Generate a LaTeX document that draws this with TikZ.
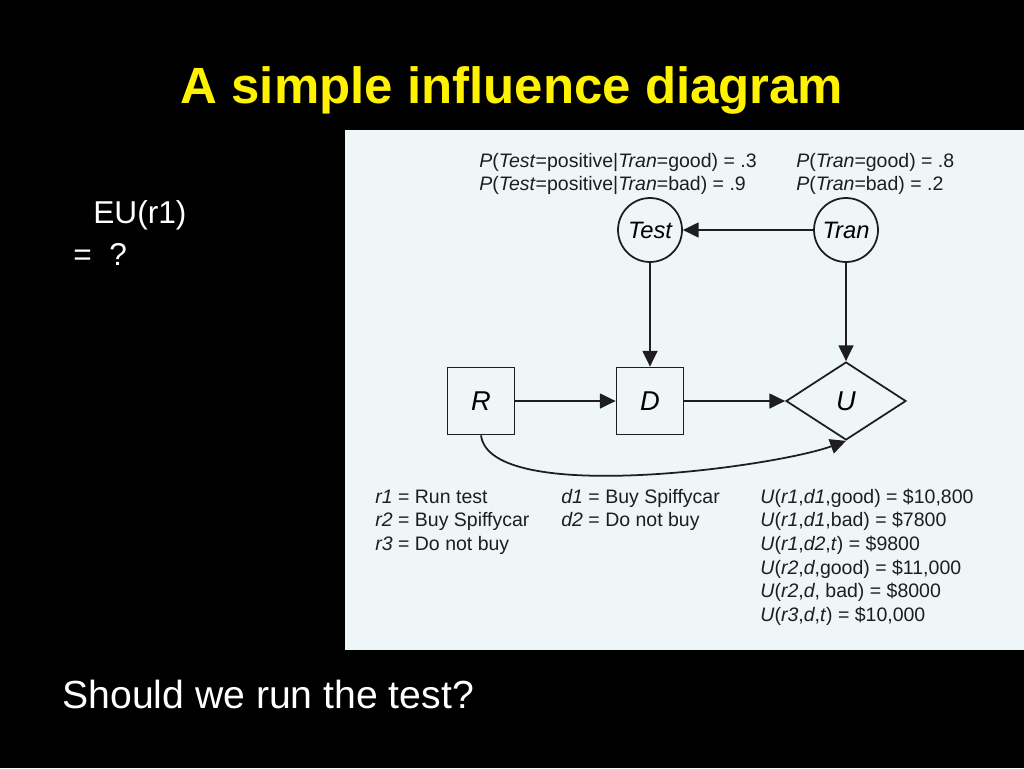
\documentclass[tikz,border=0pt]{standalone}
\usepackage{fontspec}
\setmainfont{Liberation Sans}
\usetikzlibrary{shapes.geometric,arrows.meta}
\definecolor{panel}{RGB}{238,246,248}
\definecolor{ink}{RGB}{30,30,30}
\newcommand{\vname}[1]{\textit{#1}}

\begin{document}
\begin{tikzpicture}[x=0.02cm,y=0.02cm,
  chance/.style={circle,draw=ink,line width=1pt,minimum size=1.28cm,inner sep=0pt,font=\fontsize{13.5}{15}\selectfont\itshape},
  decision/.style={rectangle,draw=ink,line width=1pt,minimum size=1.34cm,inner sep=0pt,font=\fontsize{15.5}{18}\selectfont\itshape},
  utility/.style={diamond,draw=ink,line width=1pt,minimum width=2.4cm,minimum height=1.56cm,inner sep=0pt,font=\fontsize{15.5}{18}\selectfont\itshape},
  arr/.style={-{Triangle[length=9pt,width=8.5pt]},line width=1pt,draw=ink},
  small/.style={anchor=base west,inner sep=0pt,text=ink,font=\fontsize{11.1}{13}\selectfont}]
  \fill[black] (0,0) rectangle (1024,-768);
  \fill[panel] (345,-130) rectangle (1024,-650);
\node[text=yellow,font=\fontsize{29}{34}\selectfont\bfseries,anchor=base] (title) at (512,-103) {A simple influence diagram};
\node[text=white,font=\fontsize{18}{20}\selectfont,anchor=base west,inner sep=0pt] (eu) at (93,-223) {EU(r1)};
\node[text=white,font=\fontsize{18}{20}\selectfont,anchor=base west,inner sep=0pt] (eq) at (73,-265) {=~~?};
\node[text=white,font=\fontsize{22.3}{26}\selectfont,anchor=base west,inner sep=0pt] (ask) at (62,-708) {Should we run the test?};
% the network
\node[chance] (Test) at (650,-230) {Test};
\node[chance] (Tran) at (846,-230) {Tran};
\node[decision] (R) at (481,-401) {R};
\node[decision] (D) at (650,-401) {D};
\node[utility] (U) at (846,-401) {U};
\draw[arr] (Tran)--(Test);
\draw[arr] (Test)--(D);
\draw[arr] (Tran)--(U);
\draw[arr] (R)--(D);
\draw[arr] (D)--(U);
\draw[arr] (R.south) .. controls (490,-506) and (775,-467) .. (U.south);
% probabilities
\node[small] (p1) at (479,-167) {\vname{P}(\vname{Test}=positive|\vname{Tran}=good) = .3};
\node[small] (p2) at (479,-190) {\vname{P}(\vname{Test}=positive|\vname{Tran}=bad) = .9};
\node[small] (p3) at (796,-167) {\vname{P}(\vname{Tran}=good) = .8};
\node[small] (p4) at (796,-190) {\vname{P}(\vname{Tran}=bad) = .2};
% choices and utilities
\foreach \txt [count=\i] in {{\vname{r1} = Run test},{\vname{r2} = Buy Spiffycar},{\vname{r3} = Do not buy}}
  \node[small] (r\i) at (375,-503-23.7*\i+23.7) {\txt};
\foreach \txt [count=\i] in {{\vname{d1} = Buy Spiffycar},{\vname{d2} = Do not buy}}
  \node[small] (d\i) at (561,-503-23.7*\i+23.7) {\txt};
\foreach \txt [count=\i] in {{\vname{U}(\vname{r1},\vname{d1},good) = \$10,800},
  {\vname{U}(\vname{r1},\vname{d1},bad) = \$7800},
  {\vname{U}(\vname{r1},\vname{d2},\vname{t}) = \$9800},
  {\vname{U}(\vname{r2},\vname{d},good) = \$11,000},
  {\vname{U}(\vname{r2},\vname{d}, bad) = \$8000},
  {\vname{U}(\vname{r3},\vname{d},\vname{t}) = \$10,000}}
  \node[small] (u\i) at (760,-503-23.7*\i+23.7) {\txt};
\end{tikzpicture}
\end{document}
